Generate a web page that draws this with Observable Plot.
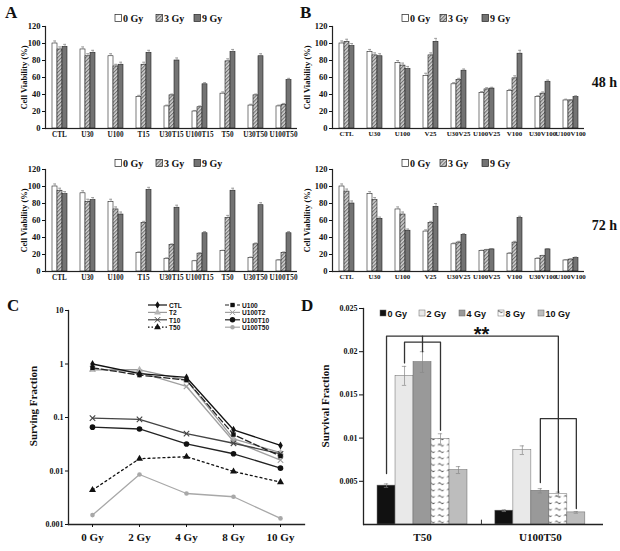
<!DOCTYPE html>
<html><head><meta charset="utf-8">
<script src="https://cdn.jsdelivr.net/npm/d3@7"></script>
<script src="https://cdn.jsdelivr.net/npm/@observablehq/plot@0.6"></script>
<style>
body{margin:0;background:#fff;}
#fig{position:relative;width:620px;height:551px;overflow:hidden;background:#fff;}
#fig > div{position:absolute;}
</style></head><body>
<svg width="0" height="0" style="position:absolute">
<defs>
<pattern id="hatch3" patternUnits="userSpaceOnUse" width="2.6" height="2.6" patternTransform="rotate(45)">
<rect width="2.6" height="2.6" fill="#d2d2d2"/>
<line x1="0.6" y1="0" x2="0.6" y2="2.6" stroke="#5c5c5c" stroke-width="0.9"/>
</pattern>
<pattern id="wave" patternUnits="userSpaceOnUse" width="9" height="6.4" x="0.5" y="1">
<rect width="9" height="6.4" fill="#fff"/>
<path d="M1.6,3.4 q1.4,-2 2.8,0 t2.8,0" fill="none" stroke="#222" stroke-width="0.9"/>
</pattern>
</defs></svg>
<div id="fig"></div>
<script>
// ---------- data: panels A and B (cell viability %) ----------
const doseAB = ["0 Gy", "3 Gy", "9 Gy"];
const yTicksAB = [0, 20, 40, 60, 80, 100, 120];
const catsA = ["CTL", "U30", "U100", "T15", "U30T15", "U100T15", "T50", "U30T50", "U100T50"];
const catsB = ["CTL", "U30", "U100", "V25", "U30V25", "U100V25", "V100", "U30V100", "U100V100"];

const A48_0 = [100, 93, 85, 37, 26, 20, 41, 27, 26];
const A48_3 = [93, 85, 73, 75, 39, 25, 79, 39, 28];
const A48_9 = [96, 89, 75, 89, 80, 52, 90, 85, 57];
const A48_e0 = [3, 3, 3, 2, 1.5, 1.2, 2, 1.5, 1.5];
const A48_e3 = [3, 3, 2.5, 3, 1.5, 1.5, 3, 1.5, 1.5];
const A48_e9 = [3, 3, 3, 3, 3, 2, 3, 3, 2];

const A72_0 = [100, 92, 82, 22, 15, 12, 24, 16, 13];
const A72_3 = [95, 82, 73, 57, 31, 21, 63, 32, 22];
const A72_9 = [91, 84, 67, 96, 75, 45, 95, 78, 45];
const A72_e0 = [3, 3, 3, 1, 1, 1, 1, 1, 1];
const A72_e3 = [3, 3, 3, 2, 1.5, 1, 3, 1.5, 1];
const A72_e9 = [3, 3, 3, 3, 3, 2, 3, 3, 2];

const B48_0 = [100, 90, 77, 62, 52, 42, 44, 37, 33];
const B48_3 = [102, 86, 74, 86, 57, 46, 59, 41, 33];
const B48_9 = [97, 85, 70, 102, 68, 47, 88, 55, 37];
const B48_e0 = [3, 3, 3, 3, 2, 1.5, 2, 1.5, 1.5];
const B48_e3 = [3, 3, 3, 3, 2, 2, 3, 2, 1];
const B48_e9 = [3, 3, 3, 4, 2, 1.5, 4, 2, 1.5];

const B72_0 = [100, 91, 73, 47, 32, 24, 21, 15, 13];
const B72_3 = [94, 84, 67, 57, 34, 25, 34, 18, 14];
const B72_9 = [80, 62, 48, 76, 43, 26, 63, 26, 16];
const B72_e0 = [3, 3, 3, 2, 1.5, 1, 1, 1, 1];
const B72_e3 = [3, 3, 3, 2, 1.5, 1, 1.5, 1, 1];
const B72_e9 = [3, 2, 2, 4, 1.5, 1, 2, 1, 1];

// ---------- data: panel C (surviving fraction, log) ----------
const cDoses = ["0 Gy", "2 Gy", "4 Gy", "8 Gy", "10 Gy"];
const sfCTL = [1.0, 0.66, 0.56, 0.059, 0.030];
const sfU100 = [0.85, 0.62, 0.50, 0.048, 0.019];
const sfT2 = [0.78, 0.78, 0.50, 0.040, 0.022];
const sfU100T2 = [0.82, 0.70, 0.38, 0.036, 0.016];
const sfT10 = [0.097, 0.092, 0.050, 0.033, 0.021];
const sfU100T10 = [0.066, 0.061, 0.032, 0.021, 0.0113];
const sfT50 = [0.0044, 0.017, 0.0185, 0.0098, 0.0062];
const sfU100T50 = [0.0015, 0.0086, 0.0038, 0.0033, 0.0013];
const cTicks = [0.001, 0.01, 0.1, 1, 10];

// ---------- data: panel D (survival fraction bars) ----------
const dGroups = ["T50", "U100T50"];
const dDoses = ["0 Gy", "2 Gy", "4 Gy", "8 Gy", "10 Gy"];
const dT50 = [0.0045, 0.0172, 0.0188, 0.0099, 0.0063];
const dT50err = [0.0002, 0.0011, 0.0012, 0.0006, 0.0004];
const dU100T50 = [0.0016, 0.0086, 0.0039, 0.0035, 0.0014];
const dU100T50err = [0.0001, 0.0005, 0.00025, 0.00025, 0.0001];
const dTicks = [0.005, 0.01, 0.015, 0.02, 0.025];
// significance brackets: [group, dose, survival fraction]
const bracketAll = [["T50", "0 Gy", 0.0059], ["T50", "0 Gy", 0.0218], ["U100T50", "8 Gy", 0.0218], ["U100T50", "8 Gy", 0.01225]];
const bracketMid = [["T50", "4 Gy", 0.0218], ["T50", "4 Gy", 0.0200]];
const bracketT50 = [["T50", "2 Gy", 0.0187], ["T50", "2 Gy", 0.0211], ["T50", "8 Gy", 0.0211], ["T50", "8 Gy", 0.0109]];
const bracketU = [["U100T50", "4 Gy", 0.00485], ["U100T50", "4 Gy", 0.01225], ["U100T50", "10 Gy", 0.01225], ["U100T50", "10 Gy", 0.00185]];
const bracketU8 = [["U100T50", "8 Gy", 0.01225], ["U100T50", "8 Gy", 0.0037]];
const starLevel = 0.0226;

// ---------- helpers ----------
const fig = document.getElementById("fig");
function place(node, left, top) {
  const wrap = document.createElement("div");
  wrap.style.left = left + "px";
  wrap.style.top = top + "px";
  wrap.appendChild(node);
  fig.appendChild(wrap);
}
const SERIF = "'Liberation Serif', 'Times New Roman', serif";
const SANS = "'Liberation Sans', Arial, sans-serif";
const abFill = ["#ffffff", "url(#hatch3)", "#737373"];

function barPanel(cats, vals, errs, left, top, width, mLeft, mRight, labelOffset, catFont) {
  const rows = cats.flatMap((c, i) => doseAB.map((d, j) => ({cat: c, dose: d, v: vals[j][i], e: errs[j][i]})));
  const p = Plot.plot({
    width, height: 129, marginLeft: mLeft, marginRight: mRight, marginTop: 8, marginBottom: 19,
    style: {background: "transparent", fontFamily: SERIF, fontWeight: "bold", fontSize: "8px", color: "#111", overflow: "visible"},
    fx: {domain: cats, padding: 0},
    x: {domain: doseAB, paddingInner: 0.04, paddingOuter: 1.15, axis: null},
    y: {domain: [0, 120]},
    color: {domain: doseAB, range: abFill},
    marks: [
      Plot.barY(rows, {fx: "cat", x: "dose", y: "v", fill: "dose", stroke: "#222", strokeWidth: 0.6}),
      Plot.ruleX(rows, {fx: "cat", x: "dose", y1: "v", y2: d => d.v + d.e, stroke: "#777", strokeWidth: 0.6}),
      Plot.tickY(rows, {fx: "cat", x: "dose", y: d => d.v + d.e, stroke: "#777", strokeWidth: 0.6, insetLeft: 1, insetRight: 1}),
      Plot.ruleY([0], {stroke: "#222", strokeWidth: 1.2}),
      Plot.frame({anchor: "left", facetAnchor: "left", stroke: "#222", strokeWidth: 1.2}),
      Plot.axisFx({anchor: "bottom", tickSize: 0, tickPadding: 3, label: null, fontSize: catFont}),
      Plot.axisY({ticks: yTicksAB, tickSize: 3, tickPadding: 2, label: "Cell Viability (%)", labelArrow: "none", labelAnchor: "center", labelOffset, fontSize: 8.5})
    ]
  });
  place(p, left, top);
}

barPanel(catsA, [A48_0, A48_3, A48_9], [A48_e0, A48_e3, A48_e9], 0, 18, 302, 44, 4, 25, 7.2);
barPanel(catsA, [A72_0, A72_3, A72_9], [A72_e0, A72_e3, A72_e9], 0, 161, 302, 44, 4, 25, 7.2);
barPanel(catsB, [B48_0, B48_3, B48_9], [B48_e0, B48_e3, B48_e9], 298, 18, 289, 33, 2, 29, 6.9);
barPanel(catsB, [B72_0, B72_3, B72_9], [B72_e0, B72_e3, B72_e9], 298, 161, 289, 33, 2, 29, 6.9);

// ---------- panel C ----------
const cSeries = [
  {name: "U100T50", vals: sfU100T50, stroke: "#a8a8a8", dash: null, symbol: "circle", fill: "#a8a8a8", r: 2.3},
  {name: "T2", vals: sfT2, stroke: "#9a9a9a", dash: null, symbol: "triangle", fill: "#b5b5b5", r: 2.6},
  {name: "U100T2", vals: sfU100T2, stroke: "#a0a0a0", dash: null, symbol: "times", fill: null, r: 2.6},
  {name: "T10", vals: sfT10, stroke: "#444", dash: null, symbol: "times", fill: null, r: 2.6},
  {name: "U100", vals: sfU100, stroke: "#222", dash: "6,3", symbol: "square", fill: "#111", r: 2.5},
  {name: "CTL", vals: sfCTL, stroke: "#111", dash: null, symbol: "diamond", fill: "#111", r: 2.4},
  {name: "U100T10", vals: sfU100T10, stroke: "#222", dash: null, symbol: "circle", fill: "#111", r: 2.8},
  {name: "T50", vals: sfT50, stroke: "#111", dash: "2,3", symbol: "triangle", fill: "#111", r: 2.6}
];
const cMarks = cSeries.flatMap(s => {
  const pts = cDoses.map((d, i) => ({dose: d, sf: s.vals[i]}));
  return [
    Plot.line(pts, {x: "dose", y: "sf", stroke: s.stroke, strokeWidth: 1.3, strokeDasharray: s.dash}),
    s.fill
      ? Plot.dot(pts, {x: "dose", y: "sf", symbol: s.symbol, fill: s.fill, stroke: "none", r: s.r})
      : Plot.dot(pts, {x: "dose", y: "sf", symbol: s.symbol, stroke: s.stroke, strokeWidth: 1.1, r: s.r})
  ];
});
const plotC = Plot.plot({
  width: 310, height: 251, marginLeft: 68, marginRight: 6, marginTop: 10, marginBottom: 27,
  style: {background: "transparent", fontFamily: SERIF, fontWeight: "bold", fontSize: "8px", color: "#111", overflow: "visible"},
  x: {type: "point", domain: cDoses, padding: 0.5},
  y: {type: "log", domain: [0.001, 10]},
  marks: [
    ...cMarks,
    Plot.frame({anchor: "left", stroke: "#222", strokeWidth: 1.3}),
    Plot.frame({anchor: "bottom", stroke: "#222", strokeWidth: 1.3}),
    Plot.axisX({tickSize: 3, tickPadding: 6, label: null, fontSize: 11}),
    Plot.axisY({ticks: cTicks, tickFormat: d => String(d), tickSize: 3, tickPadding: 2, label: null, fontSize: 8})
  ]
});
place(plotC, 0, 300);

// ---------- panel D ----------
const dStep = 6.55; // group step, in bar widths
const dPos = (g, d) => dGroups.indexOf(g) * dStep + dDoses.indexOf(d);
const dRows = dGroups.flatMap(g => dDoses.map((d, i) => ({
  group: g, dose: d, x: dPos(g, d),
  v: (g === "T50" ? dT50 : dU100T50)[i],
  e: (g === "T50" ? dT50err : dU100T50err)[i]
})));
const dBrackets = [bracketAll, bracketMid, bracketT50, bracketU, bracketU8]
  .flatMap((b, k) => b.map(([g, d, y]) => ({id: k, x: dPos(g, d), y})));
const dGroupCenters = dGroups.map(g => dPos(g, dDoses[2]));
const dGap = (dPos("T50", "10 Gy") + dPos("U100T50", "0 Gy")) / 2;
const plotD = Plot.plot({
  width: 300, height: 251, marginLeft: 53, marginRight: 7, marginTop: 8, marginBottom: 27,
  style: {background: "transparent", fontFamily: SERIF, fontWeight: "bold", fontSize: "8px", color: "#111", overflow: "visible"},
  x: {type: "linear", domain: [-1.28, 12.06]},
  y: {domain: [0, 0.025]},
  color: {domain: dDoses, range: ["#111111", "#e9e9e9", "#999999", "url(#wave)", "#bdbdbd"]},
  marks: [
    Plot.rectY(dRows, {x1: d => d.x - 0.5, x2: d => d.x + 0.5, y: "v", fill: "dose", stroke: "#666", strokeWidth: 0.5}),
    Plot.ruleX(dRows, {x: "x", y1: d => d.v - d.e, y2: d => d.v + d.e, stroke: "#888", strokeWidth: 0.7}),
    Plot.ruleY(dRows, {y: d => d.v + d.e, x1: d => d.x - 0.12, x2: d => d.x + 0.12, stroke: "#888", strokeWidth: 0.7}),
    Plot.ruleY(dRows, {y: d => d.v - d.e, x1: d => d.x - 0.12, x2: d => d.x + 0.12, stroke: "#888", strokeWidth: 0.7}),
    Plot.line(dBrackets, {x: "x", y: "y", z: "id", stroke: "#333", strokeWidth: 1.3}),
    Plot.text([dGap], {x: d => d, y: starLevel, text: () => "**", fontSize: 20, fontFamily: SANS, dy: 5}),
    Plot.ruleX([dGap], {y1: 0, y2: 0.0005, stroke: "#333", strokeWidth: 1}),
    Plot.ruleY([0], {stroke: "#222", strokeWidth: 1.3}),
    Plot.frame({anchor: "left", stroke: "#222", strokeWidth: 1.3}),
    Plot.axisX({ticks: dGroupCenters, tickFormat: (d, i) => dGroups[i], tickSize: 0, tickPadding: 9, label: null, fontSize: 11}),
    Plot.axisY({ticks: dTicks, tickFormat: d3.format(""), tickSize: 4, tickPadding: 2, label: null, fontSize: 8})
  ]
});
place(plotD, 310, 300);

// ---------- overlay: panel letters, legends, axis titles ----------
const ov = d3.create("svg").attr("width", 620).attr("height", 551)
  .style("position", "absolute").style("left", "0px").style("top", "0px");
const tx = (x, y, s, size, fam, anchor = "start") => ov.append("text")
  .attr("x", x).attr("y", y).text(s).attr("font-size", size).attr("font-family", fam)
  .attr("font-weight", "bold").attr("fill", "#111").attr("text-anchor", anchor).attr("dominant-baseline", "central");

tx(5, 12, "A", 17, SERIF); tx(300, 12, "B", 17, SERIF);
tx(7, 305, "C", 17, SERIF); tx(301, 305, "D", 17, SERIF);
tx(617, 82, "48 h", 14, SERIF, "end"); tx(617, 225, "72 h", 14, SERIF, "end");

function legendAB(xs, y) {
  doseAB.forEach((d, i) => {
    ov.append("rect").attr("x", xs[i]).attr("y", y - 3.5).attr("width", 6.5).attr("height", 7)
      .attr("fill", abFill[i]).attr("stroke", "#222").attr("stroke-width", 0.7);
    tx(xs[i] + 8, y + 0.5, d, 10, SERIF);
  });
}
legendAB([115, 156, 194], 18); legendAB([115, 156, 194], 163);
legendAB([402, 440, 482], 18); legendAB([402, 440, 482], 163);

// legend C
const cLegendOrder = ["CTL", "T2", "T10", "T50", "U100", "U100T2", "U100T10", "U100T50"];
const symMap = {circle: d3.symbolCircle, triangle: d3.symbolTriangle, times: d3.symbolTimes, square: d3.symbolSquare, diamond: d3.symbolDiamond};
cLegendOrder.forEach((name, k) => {
  const s = cSeries.find(q => q.name === name);
  const col = k < 4 ? 0 : 1, row = k % 4;
  const y = 305 + row * 7.4;
  const x1 = col ? 225 : 148, x2 = col ? 240 : 167, xm = (x1 + x2) / 2;
  ov.append("line").attr("x1", x1).attr("x2", x2).attr("y1", y).attr("y2", y)
    .attr("stroke", s.stroke).attr("stroke-width", 1.2).attr("stroke-dasharray", s.dash ? (s.dash === "2,3" ? "1.5,2" : "4,2") : null);
  ov.append("path").attr("d", d3.symbol(symMap[s.symbol], s.r * s.r * 3)())
    .attr("transform", `translate(${xm},${y})`)
    .attr("fill", s.fill || "none").attr("stroke", s.fill ? "none" : s.stroke).attr("stroke-width", 1);
  tx(x2 + 2, y + 0.5, name, 6.6, SANS);
});

// legend D
const dLegendFill = ["#111111", "#e9e9e9", "#999999", "url(#wave)", "#bdbdbd"];
const dLegX = [380, 419, 459, 498, 538];
dDoses.forEach((d, i) => {
  ov.append("rect").attr("x", dLegX[i]).attr("y", 310).attr("width", 6).attr("height", 6)
    .attr("fill", dLegendFill[i]).attr("stroke", "#666").attr("stroke-width", 0.5);
  tx(dLegX[i] + 7.5, 313.5, d, 9, SANS);
});

// rotated axis titles for C and D
ov.append("text").attr("transform", "translate(33,406) rotate(-90)").text("Surving Fraction")
  .attr("font-size", 11).attr("font-family", SERIF).attr("font-weight", "bold").attr("text-anchor", "middle").attr("dominant-baseline", "central").attr("fill", "#111");
ov.append("text").attr("transform", "translate(325,406) rotate(-90)").text("Survival Fraction")
  .attr("font-size", 11).attr("font-family", SERIF).attr("font-weight", "bold").attr("text-anchor", "middle").attr("dominant-baseline", "central").attr("fill", "#111");

fig.appendChild(ov.node());
</script></body></html>
